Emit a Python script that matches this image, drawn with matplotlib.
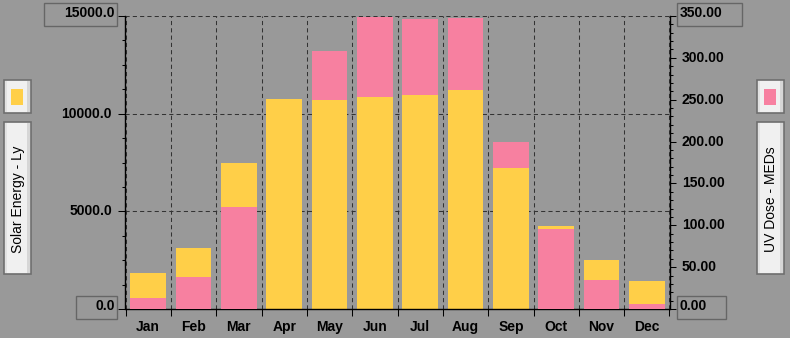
import matplotlib
matplotlib.use("Agg")
import matplotlib.pyplot as plt
from matplotlib.patches import Rectangle
from matplotlib.transforms import offset_copy
import numpy as np

months = ["Jan", "Feb", "Mar", "Apr", "May", "Jun", "Jul", "Aug", "Sep", "Oct", "Nov", "Dec"]
solar_ly = [1850, 3120, 7480, 10750, 10700, 10850, 10950, 11230, 7220, 4250, 2510, 1430]
uv_meds = [13, 38, 122, 0, 308, 349, 346, 348, 200, 96, 35, 6]
left_ticks = [0, 5000, 10000, 15000]
right_ticks = [0, 50, 100, 150, 200, 250, 300, 350]
left_label = "Solar Energy - Ly"
right_label = "UV Dose - MEDs"

W, H = 790, 338
BG = "#999999"
YEL = "#FFCF48"
PNK = "#F780A0"
GRID = "#333333"
NUMFONT = dict(family=["Liberation Sans", "DejaVu Sans"], fontweight="bold", fontsize=10)

fig = plt.figure(figsize=(W / 100, H / 100), dpi=100, facecolor=BG)
ax = fig.add_axes([125.5 / W, (H - 309) / H, 544 / W, 293 / H])
ax.set_facecolor(BG)
ax2 = ax.twinx()

LMAX, RMAX = 15000, 350
ax.set_xlim(-0.5, len(months) - 0.5)
ax.set_ylim(0, LMAX)
ax2.set_ylim(0, RMAX)

x = np.arange(len(months))
bw = 0.79
ybars = ax.bar(x, solar_ly, width=bw, color=YEL, linewidth=0, antialiased=False)
pbars = ax.bar(x, uv_meds, width=bw, color=PNK, linewidth=0, antialiased=False,
               transform=ax2.transData)
for yb, pb, s, u in zip(ybars, pbars, solar_ly, uv_meds):
    yb.set_zorder(2)
    pb.set_zorder(3 if u / RMAX < s / LMAX else 1.5)

# grid
ax.set_yticks(left_ticks)
ax.set_yticks(np.arange(0, LMAX + 1, 1250), minor=True)
ax.set_xticks(np.arange(-0.5, len(months)), [""] * (len(months) + 1))
ax.set_xticks(x, months, minor=True)
ax.grid(True, which="major", color=GRID, linestyle=(0, (4, 3)), linewidth=0.75, zorder=1)
ax.set_axisbelow(True)

ax2.set_yticks(right_ticks)
ax2.set_yticks(np.arange(0, RMAX + 1, 10), minor=True)

for sp in ["top", "right"]:
    ax.spines[sp].set_visible(False)
for sp in ["top", "left", "bottom"]:
    ax2.spines[sp].set_visible(False)
for sp in [ax.spines["left"], ax.spines["bottom"], ax2.spines["right"]]:
    sp.set_color("black")
    sp.set_linewidth(1.0)

ax.tick_params(axis="y", which="major", length=5, width=0.75, color="black", labelleft=False)
ax.tick_params(axis="y", which="minor", length=2.5, width=0.75, color="black", labelleft=False)
ax.tick_params(axis="x", which="major", length=5, width=0.75, color="black")
ax.tick_params(axis="x", which="minor", length=0, pad=8)
for lab in ax.get_xticklabels(minor=True):
    lab.set_family(NUMFONT["family"])
    lab.set_fontweight("bold")
    lab.set_fontsize(NUMFONT["fontsize"])
ax2.tick_params(axis="y", which="major", length=4.3, width=0.75, color="black", labelright=False)
ax2.tick_params(axis="y", which="minor", length=2.2, width=0.75, color="black", labelright=False)

# y tick labels
ltr = ax.get_yaxis_transform()
for i, v in enumerate(left_ticks):
    boxed = i in (0, len(left_ticks) - 1)
    tr = offset_copy(ltr, fig=fig, x=(-10.5 if boxed else -13.5), y=(3 if boxed else 0), units="dots")
    ax.text(0, v, f"{v:.1f}", transform=tr, ha="right", va="center", clip_on=False, **NUMFONT)
rtr = ax2.get_yaxis_transform()
for i, v in enumerate(right_ticks):
    boxed = i in (0, len(right_ticks) - 1)
    tr = offset_copy(rtr, fig=fig, x=(10.5 if boxed else 12.5), y=(3 if boxed else 0), units="dots")
    ax2.text(1, v, f"{v:.2f}", transform=tr, ha="left", va="center", clip_on=False, **NUMFONT)


def frect(x0, y0, x1, y1, **kw):
    r = Rectangle((x0 / W, 1 - y1 / H), (x1 - x0) / W, (y1 - y0) / H,
                  transform=fig.transFigure, **kw)
    fig.add_artist(r)
    return r


# boxes around end labels
for (x0, y0, x1, y1) in [(44, 3, 117, 26), (76, 296, 117, 319), (677, 3, 742, 26), (677, 296, 726, 319)]:
    frect(x0, y0, x1, y1, facecolor="none", edgecolor="#666666", linewidth=1.0)


def panel(x0, y0, x1, y1):
    frect(x0, y0, x1, y1, facecolor="#F0F0F0", edgecolor="none")
    frect(x0 + 1, y0 + 1, x0 + 3, y1 - 1, facecolor="#E2E2E2", edgecolor="none")
    frect(x1 - 4, y0 + 1, x1 - 1, y1 - 1, facecolor="#D6D6D6", edgecolor="none")
    frect(x0, y0, x1, y1, facecolor="none", edgecolor="#6E6E6E", linewidth=1.2)


# legends
panel(4, 80, 31, 113)
frect(11, 89, 23, 105, facecolor=YEL, edgecolor="none")
panel(4, 122, 31, 274)
fig.text(18 / W, 1 - 199 / H, left_label, rotation=90, ha="center", va="center",
         family=["Liberation Sans", "DejaVu Sans"], fontsize=10, color="black")

panel(757, 80, 784, 113)
frect(764, 89, 776, 105, facecolor=PNK, edgecolor="none")
panel(757, 122, 784, 274)
fig.text(771 / W, 1 - 199 / H, right_label, rotation=90, ha="center", va="center",
         family=["Liberation Sans", "DejaVu Sans"], fontsize=10, color="black")

fig.savefig("out.png", dpi=100, facecolor=BG)
